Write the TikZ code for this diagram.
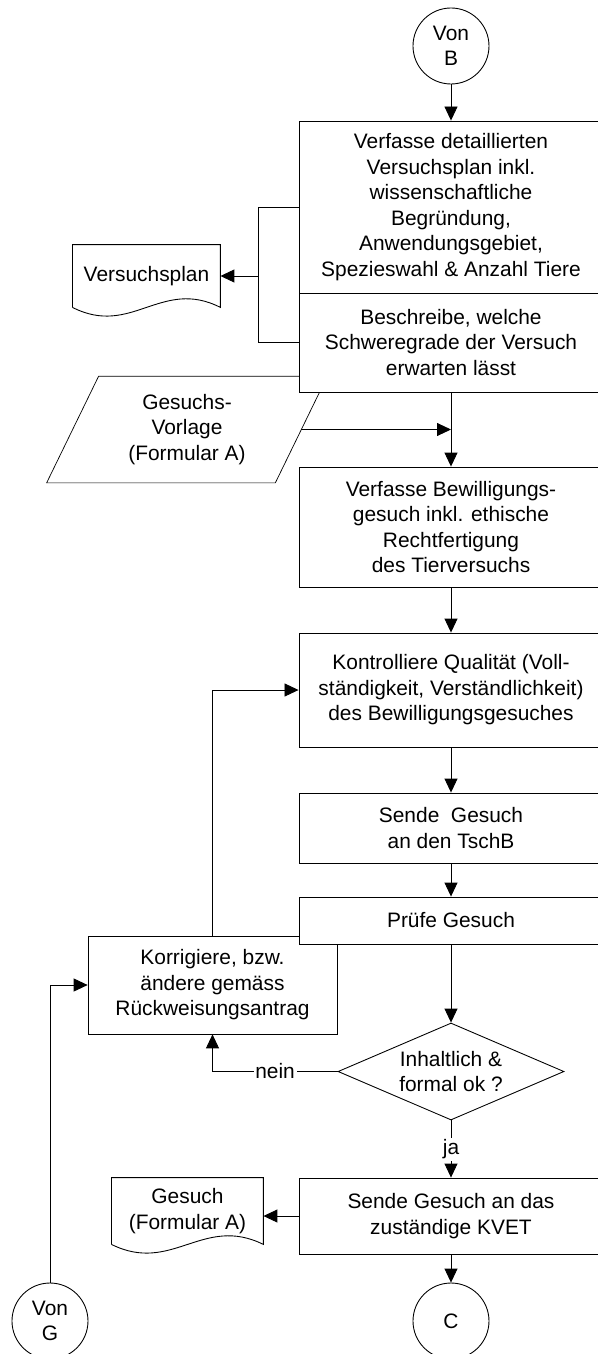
\documentclass[tikz,border=0pt]{standalone}
\usepackage{fontspec}
\setmainfont{Liberation Sans}
\usetikzlibrary{shapes.geometric, arrows.meta}
\usetikzlibrary{backgrounds}
\tikzstyle{process} = [rectangle, minimum width=6.08cm, text centered, align=center, draw=black, fill=white]
\tikzstyle{connector} = [circle, minimum size=1.52cm, inner sep=0pt, align=center, draw=black, fill=white]
\tikzstyle{decision} = [diamond, aspect=2.33, minimum width=4.52cm, minimum height=1.94cm, inner sep=0pt, align=center, draw=black, fill=white]
\tikzstyle{doc} = [rectangle, align=center, inner sep=0pt]
\tikzstyle{io} = [rectangle, align=center, minimum width=4.56cm, minimum height=2.12cm]
\tikzstyle{arrow} = [->,>={Triangle[length=0.28cm,width=0.26cm]}]

\begin{document}
\begin{tikzpicture}[node distance=1cm, line width=0.5pt, font=\fontsize{11.9}{14.5}\selectfont]
\useasboundingbox (-9.02,0.92) rectangle (2.92,-26.16);

\node (vonb) [connector] {Von\\B};
\node (plan) [process, minimum height=3.44cm, below of=vonb, yshift=-2.22cm] {Verfasse detaillierten\\Versuchsplan inkl.\\wissenschaftliche\\Begründung,\\Anwendungsgebiet,\\Spezieswahl \& Anzahl Tiere};
\node (grade) [process, minimum height=1.98cm, below of=plan, yshift=-1.71cm] {Beschreibe, welche\\Schweregrade der Versuch\\erwarten lässt};
\node (gesuch) [process, minimum height=2.4cm, below of=grade, yshift=-2.69cm] {Verfasse Bewilligungs-\\gesuch inkl. ethische\\Rechtfertigung\\des Tierversuchs};
\node (kontrolle) [process, minimum height=2.28cm, below of=gesuch, yshift=-2.26cm] {Kontrolliere Qualität (Voll-\\ständigkeit, Verständlichkeit)\\des Bewilligungsgesuches};
\node (senden) [process, minimum height=1.4cm, below of=kontrolle, yshift=-1.76cm] {Sende\ \ Gesuch\\an den TschB};
\node (pruefe) [process, minimum height=0.94cm, below of=senden, yshift=-0.85cm] {Prüfe Gesuch};
\node (ok) [decision, below of=pruefe, yshift=-2.02cm] {Inhaltlich \&\\formal ok ?};
\node (kvet) [process, minimum height=1.52cm, below of=ok, yshift=-1.89cm] {Sende Gesuch an das\\zuständige KVET};
\node (c) [connector, below of=kvet, yshift=-1.1cm] {C};
\node (vong) [connector, left of=c, xshift=-7.02cm] {Von\\G};

\node (plandoc) [doc, minimum width=2.94cm, minimum height=1.24cm, left of=plan, xshift=-5.09cm, yshift=-1.38cm] {Versuchsplan};
\node (gesuchdoc) [doc, minimum width=3.02cm, minimum height=1.32cm, left of=kvet, xshift=-4.27cm, yshift=0.1cm] {Gesuch\\(Formular A)};

\begin{scope}[on background layer]
\node (vorlage) [io, left of=grade, xshift=-4.28cm, yshift=-1.74cm] {Gesuchs-\\Vorlage\\(Formular A)};
\draw ([xshift=0.52cm]vorlage.north west) -- ([xshift=0.52cm]vorlage.north east) -- ([xshift=-0.52cm]vorlage.south east) -- ([xshift=-0.52cm]vorlage.south west) -- cycle;
\node (korrektur) [process, minimum width=4.98cm, minimum height=1.96cm, left of=pruefe, xshift=-3.77cm, yshift=-1.29cm] {Korrigiere, bzw.\\ändere gemäss\\Rückweisungsantrag};
\end{scope}

\draw (plandoc.south west) -- (plandoc.north west) -- (plandoc.north east) -- (plandoc.south east) .. controls +(-1.18,0.6) and +(1.18,-0.6) .. (plandoc.south west);
\draw (gesuchdoc.south west) -- (gesuchdoc.north west) -- (gesuchdoc.north east) -- (gesuchdoc.south east) .. controls +(-1.21,0.6) and +(1.21,-0.6) .. (gesuchdoc.south west);

\draw [arrow] (vonb) -- (plan);
\draw (plan.west) -- ++(-0.8,0) coordinate (split) |- (grade.west);
\draw [arrow] (split |- plandoc.east) -- (plandoc.east);
\draw [arrow] (grade) -- (gesuch);
\draw [arrow] (vorlage.east) -- (vorlage.east -| grade.south);
\draw [arrow] (gesuch) -- (kontrolle);
\draw [arrow] (kontrolle) -- (senden);
\draw [arrow] (senden) -- (pruefe);
\draw [arrow] (pruefe) -- (ok);
\draw [arrow] (ok.west) -- node[fill=white, inner sep=1pt] {nein} (ok.west -| korrektur.south) -- (korrektur.south);
\draw [arrow] (ok) -- node[fill=white, inner sep=1pt] {ja} (kvet);
\draw [arrow] (korrektur.north) |- (kontrolle.west);
\draw [arrow] (vong.north) |- (korrektur.west);
\draw [arrow] (kvet.west) -- (kvet.west -| gesuchdoc.east);
\draw [arrow] (kvet) -- (c);

\end{tikzpicture}
\end{document}
